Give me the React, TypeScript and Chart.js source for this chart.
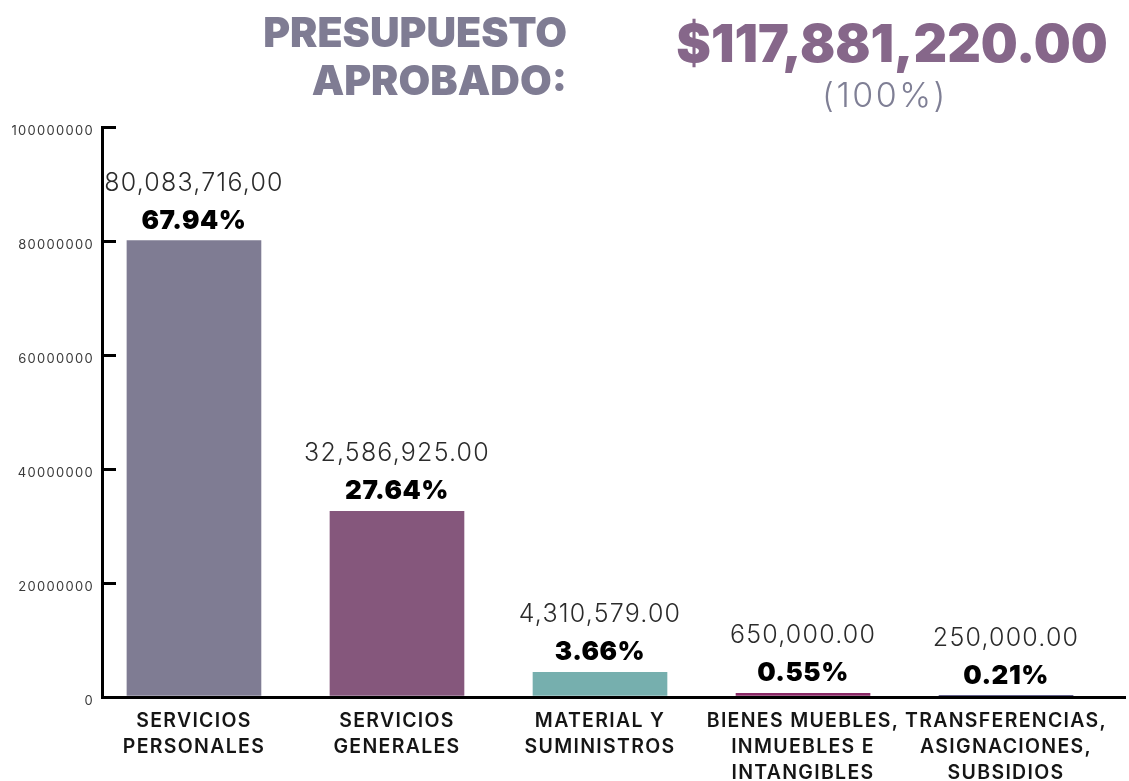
import React, { useEffect, useRef } from 'react';
import { Chart, registerables } from 'chart.js';

Chart.register(...registerables);

// ---- data ----
const CATEGORIES: string[][] = [
  ['SERVICIOS', 'PERSONALES'],
  ['SERVICIOS', 'GENERALES'],
  ['MATERIAL Y', 'SUMINISTROS'],
  ['BIENES MUEBLES,', 'INMUEBLES E', 'INTANGIBLES'],
  ['TRANSFERENCIAS,', 'ASIGNACIONES,', 'SUBSIDIOS'],
];
const AMOUNTS: number[] = [80083716, 32586925, 4310579, 650000, 250000];
const AMOUNT_TEXT: string[] = ['80,083,716,00', '32,586,925.00', '4,310,579.00', '650,000.00', '250,000.00'];
const BAR_COLORS: string[] = ['#7f7c93', '#85577c', '#76afae', '#8b2a67', '#2d2b63'];
const Y_MAX = 100000000;
const Y_STEP = 20000000;
const X_DOMAIN: number[] = [-0.453, 4.586];

const TOTAL = AMOUNTS.reduce((a, b) => a + b, 0);
const PCT_TEXT = AMOUNTS.map((v) => ((v / TOTAL) * 100).toFixed(2) + '%');
const TOTAL_TEXT = '$' + TOTAL.toLocaleString('en-US', { minimumFractionDigits: 2, maximumFractionDigits: 2 });

const FONT = "Inter, 'Noto Sans', sans-serif";

const spacingPlugin = {
  id: 'spacing',
  beforeDraw(chart: any) {
    chart.ctx.letterSpacing = '1.3px';
  },
  afterDraw(chart: any) {
    chart.ctx.letterSpacing = '0px';
  },
};

const xDomainPlugin = {
  id: 'xDomain',
  afterLayout(chart: any) {
    const s: any = chart.scales.x;
    if (s && typeof s._startValue === 'number') {
      s._startValue = X_DOMAIN[0];
      s._valueRange = X_DOMAIN[1] - X_DOMAIN[0];
    }
  },
};

const barLabelPlugin = {
  id: 'barLabels',
  afterDatasetsDraw(chart: any) {
    const ctx = chart.ctx;
    const meta = chart.getDatasetMeta(0);
    meta.data.forEach((bar: any, i: number) => {
      const { x, y } = bar.getProps(['x', 'y'], true);
      ctx.save();
      ctx.textAlign = 'center';
      ctx.textBaseline = 'alphabetic';
      ctx.letterSpacing = '1.2px';
      ctx.font = `300 25px ${FONT}`;
      ctx.fillStyle = '#2b2b2b';
      ctx.fillText(AMOUNT_TEXT[i], x, y - 12 - 38);
      ctx.letterSpacing = '0.5px';
      ctx.font = `900 26px ${FONT}`;
      ctx.fillStyle = '#000000';
      ctx.fillText(PCT_TEXT[i], x, y - 12);
      ctx.restore();
    });
  },
};

function BudgetChart() {
  const ref = useRef<HTMLCanvasElement | null>(null);
  useEffect(() => {
    if (!ref.current) return;
    const chart = new Chart(ref.current, {
      type: 'bar',
      data: {
        labels: CATEGORIES as any,
        datasets: [
          {
            data: AMOUNTS,
            backgroundColor: BAR_COLORS,
            borderWidth: 0,
            barThickness: 134,
          },
        ],
      },
      options: {
        responsive: false,
        animation: false,
        layout: { padding: { top: 127, right: 4, bottom: 3, left: 0 } },
        plugins: { legend: { display: false }, tooltip: { enabled: false }, title: { display: false } },
        scales: {
          x: {
            grid: { display: false, drawTicks: false },
            border: { color: '#000000', width: 3 },
            ticks: {
              color: '#151515',
              font: { family: FONT, size: 19.5, weight: '600', lineHeight: 1.333 } as any,
              padding: 11,
              maxRotation: 0,
              autoSkip: false,
            },
          },
          y: {
            min: 0,
            max: Y_MAX,
            afterFit(scale: any) {
              scale.width = 102;
            },
            ticks: {
              stepSize: Y_STEP,
              padding: 22,
              labelOffset: 4,
              color: '#3a3a3a',
              font: { family: FONT, size: 13 },
              callback: (v: any) => String(v),
            },
            grid: {
              drawOnChartArea: false,
              drawTicks: true,
              tickLength: -14,
              tickWidth: 3,
              tickColor: '#000000',
              lineWidth: 3,
              color: '#000000',
            },
            border: { color: '#000000', width: 3 },
          },
        },
      },
      plugins: [spacingPlugin, xDomainPlugin, barLabelPlugin],
    });
    return () => chart.destroy();
  }, []);
  return <canvas ref={ref} width={1129} height={800} style={{ position: 'absolute', left: 0, top: 0 }} />;
}

export default function App() {
  return (
    <div
      style={{
        position: 'absolute',
        left: 0,
        top: 0,
        width: 1129,
        height: 781,
        overflow: 'hidden',
        background: '#ffffff',
      }}
    >
      <BudgetChart />
      <div
        style={{
          position: 'absolute',
          right: 562,
          top: 8,
          textAlign: 'right',
          font: `900 41px ${FONT}`,
          lineHeight: '48px',
          color: '#7f7c93',
          whiteSpace: 'nowrap',
        }}
      >
        PRESUPUESTO
        <br />
        APROBADO:
      </div>
      <div
        style={{
          position: 'absolute',
          left: 892,
          top: 14,
          transform: 'translateX(-50%)',
          font: `900 52px ${FONT}`,
          lineHeight: '60px',
          color: '#86678a',
          whiteSpace: 'nowrap',
        }}
      >
        {TOTAL_TEXT}
      </div>
      <div
        style={{
          position: 'absolute',
          left: 885,
          top: 75,
          transform: 'translateX(-50%)',
          font: `300 34px ${FONT}`,
          letterSpacing: '2.5px',
          lineHeight: '40px',
          color: '#7f7f95',
          whiteSpace: 'nowrap',
        }}
      >
        (100%)
      </div>
    </div>
  );
}
